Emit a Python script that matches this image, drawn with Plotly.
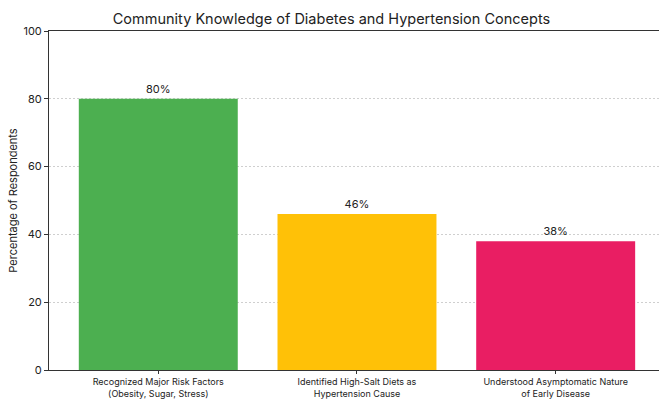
import plotly.graph_objects as go

categories = ["Recognized Major Risk Factors<br>(Obesity, Sugar, Stress)",
              "Identified High-Salt Diets as<br>Hypertension Cause",
              "Understood Asymptomatic Nature<br>of Early Disease"]
values = [80, 46, 38]
colors = ["#4CAF50", "#FFC107", "#E91E63"]
labels = [f"{v}%" for v in values]

fig = go.Figure(go.Bar(
    x=[0, 1, 2], y=values, marker=dict(color=colors, line=dict(width=0)),
    width=0.8, text=labels, textposition="outside",
    textfont=dict(size=11, color="#222"), cliponaxis=False,
))
fig.update_layout(
    width=659, height=399,
    margin=dict(l=49, r=0, t=31, b=25),
    plot_bgcolor="white", paper_bgcolor="white",
    font=dict(family="Inter, Roboto, sans-serif", color="#222"),
    title=dict(text="Community Knowledge of Diabetes and Hypertension Concepts",
               x=0.503, xanchor="center", y=0.953, yanchor="middle",
               font=dict(size=14.5, color="#222")),
    showlegend=False,
)
fig.update_xaxes(
    tickmode="array", tickvals=[0, 1, 2], ticktext=categories,
    range=[-0.55, 2.52], showline=True, linecolor="#333", linewidth=1,
    mirror=True, ticks="outside", ticklen=3, tickcolor="#333",
    tickfont=dict(size=9), showgrid=False, zeroline=False,
)
fig.update_yaxes(
    range=[0, 100], dtick=20, showline=True, linecolor="#333", linewidth=1,
    ticks="outside", ticklen=4, tickcolor="#333", tickfont=dict(size=11),
    showgrid=True, gridcolor="#cfcfcf", griddash="2px,2px", gridwidth=1,
    zeroline=False,
    title=dict(text="Percentage of Respondents", font=dict(size=11), standoff=3),
)
fig.write_html("out.html")
